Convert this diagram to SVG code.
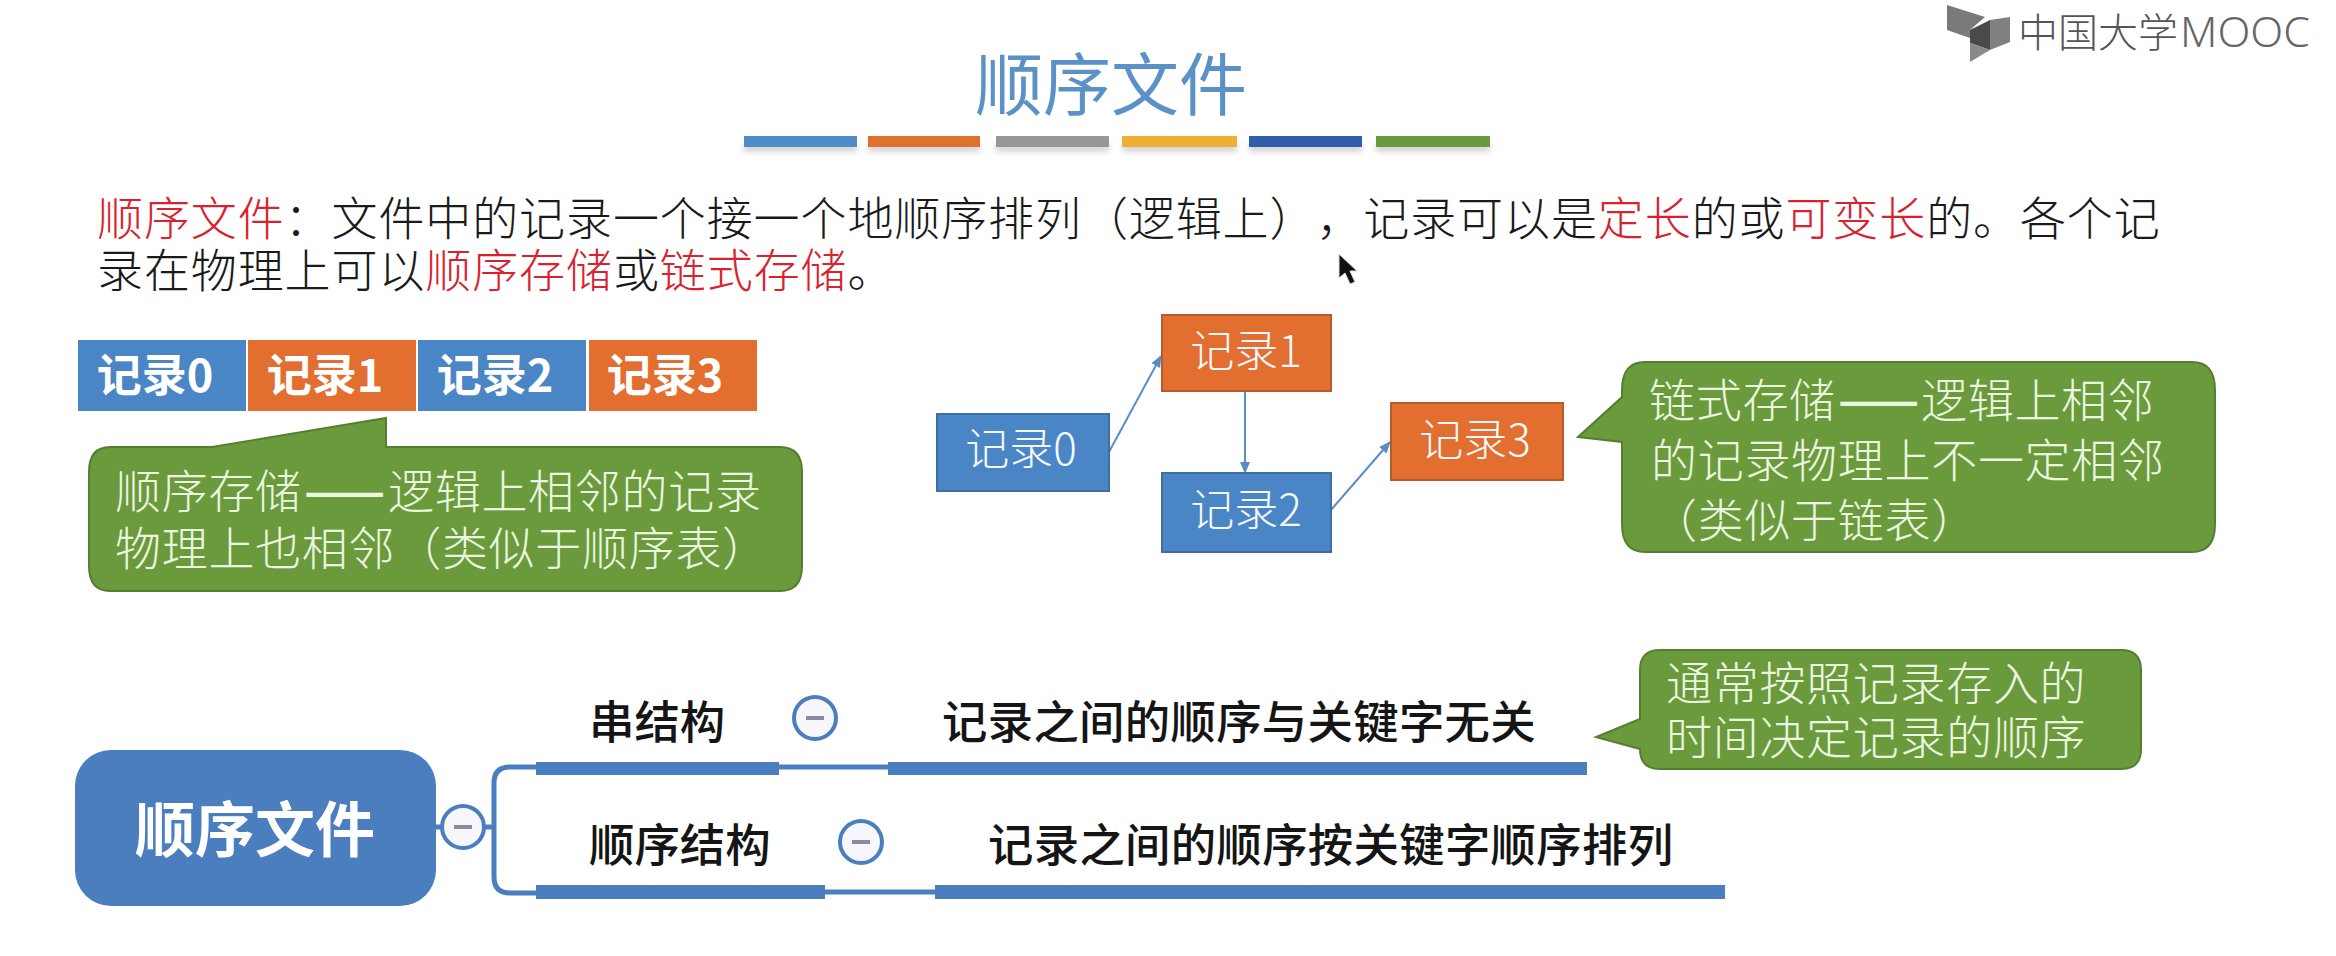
<svg xmlns="http://www.w3.org/2000/svg" width="2336" height="956" viewBox="0 0 2336 956">
<defs>
<style>
text{font-family:"Noto Sans CJK SC","Noto Sans",sans-serif;text-spacing-trim:space-all}
.body{font-size:46px;letter-spacing:.9px;fill:#1a1a1a;font-weight:300}
.red{fill:#d8232f}
.rowt{font-size:45px;font-weight:700;fill:#fff;text-anchor:middle}
.nodet{font-size:44px;fill:#f4f8fc;text-anchor:middle;font-weight:300}
.call{fill:#6a9a3c;stroke:#557f30;stroke-width:2}
.callt{font-size:46px;fill:#eaf6e0;font-weight:300;letter-spacing:.7px}
.dsh{font-weight:700}
.blue{fill:#4a86c5}
.orange{fill:#e26e30}
.box{stroke:#3f6ea3;stroke-width:2}
.box2{stroke:#b75a2c;stroke-width:2}
.arrow{fill:none;stroke:#5a8cc8;stroke-width:2;marker-end:url(#ah)}
.tree{fill:none;stroke:#4a7ebf;stroke-width:5}
.bar{fill:#4a7ebf}
.minus{fill:#f6f6fb;stroke:#4a7ebf;stroke-width:4}
.dash{fill:#8a8aa0}
.tt{font-size:45.4px;font-weight:500;fill:#151515}
</style>
<marker id="ah" viewBox="0 0 12 12" refX="11" refY="6" markerWidth="12" markerHeight="12" orient="auto" markerUnits="userSpaceOnUse"><path d="M0 1 L12 6 L0 11 Z" fill="#5a8cc8"/></marker>
<filter id="sh" x="-5%" y="-30%" width="110%" height="220%"><feGaussianBlur stdDeviation="3"/></filter>
</defs>
<rect width="2336" height="956" fill="#fff"/>

<g id="logo">
<path d="M1947 5 L1985 17 L1970 30 L1970 38 L1947 30 Z" fill="#7a7a7a"/>
<path d="M1970 30 L1990 20 L1990 50 L1970 43 Z" fill="#4a4a4a"/>
<path d="M1990 20 L2010 17 L2010 42 L1990 50 Z" fill="#808080"/>
<path d="M1970 43 L1990 50 L1970 62 Z" fill="#8a8a8a"/>
<text x="2018" y="47" font-size="40" font-weight="300" fill="#555">中国大学</text>
<text x="2180" y="47" font-size="43" font-weight="300" fill="#666" textLength="130" lengthAdjust="spacingAndGlyphs" style="font-family:'Noto Sans',sans-serif">MOOC</text>
</g>

<g id="title">
<text x="1111" y="110" font-size="68" fill="#5a92c8" text-anchor="middle">顺序文件</text>
<g opacity=".35" filter="url(#sh)" fill="#666">
<rect x="744" y="144" width="113" height="7"/><rect x="868" y="144" width="112" height="7"/><rect x="996" y="144" width="113" height="7"/><rect x="1122" y="144" width="115" height="7"/><rect x="1249" y="144" width="113" height="7"/><rect x="1376" y="144" width="114" height="7"/>
</g>
<rect x="744" y="136" width="113" height="11" fill="#4f8cc8"/>
<rect x="868" y="136" width="112" height="11" fill="#df702e"/>
<rect x="996" y="136" width="113" height="11" fill="#979797"/>
<rect x="1122" y="136" width="115" height="11" fill="#f0ae33"/>
<rect x="1249" y="136" width="113" height="11" fill="#2f5dab"/>
<rect x="1376" y="136" width="114" height="11" fill="#679b3e"/>
</g>

<g id="definition">
<text class="body" x="97" y="235"><tspan class="red">顺序文件</tspan>：文件中的记录一个接一个地顺序排列（逻辑上），记录可以是<tspan class="red">定长</tspan>的或<tspan class="red">可变长</tspan>的。各个记</text>
<text class="body" x="97" y="287">录在物理上可以<tspan class="red">顺序存储</tspan>或<tspan class="red">链式存储</tspan>。</text>
</g>

<g id="seq-record0"><rect x="78" y="340" width="168" height="71" class="blue"/><text class="rowt" x="155" y="392">记录0</text></g>
<g id="seq-record1"><rect x="248" y="340" width="168" height="71" class="orange"/><text class="rowt" x="325" y="392">记录1</text></g>
<g id="seq-record2"><rect x="418" y="340" width="168" height="71" class="blue"/><text class="rowt" x="495" y="392">记录2</text></g>
<g id="seq-record3"><rect x="589" y="340" width="168" height="71" class="orange"/><text class="rowt" x="665" y="392">记录3</text></g>

<g id="callout-seq">
<path class="call" d="M110 447 H212 L386 418 V447 H780 Q802 447 802 472 V566 Q802 591 780 591 H110 Q89 591 89 566 V472 Q89 447 110 447 Z"/>
<text class="callt" x="115" y="508">顺序存储<tspan class="dsh" x="304" textLength="82" lengthAdjust="spacingAndGlyphs">——</tspan><tspan x="388">逻辑上相邻的记录</tspan></text>
<text class="callt" x="115" y="565">物理上也相邻（类似于顺序表）</text>
</g>

<g id="connectors">
<path class="arrow" d="M1109 452 L1161 356"/>
<path class="arrow" d="M1245 391 V473"/>
<path class="arrow" d="M1331 510 L1390 442"/>
<path class="tree" d="M436 827 H442"/>
<path class="tree" d="M484 827 H494"/>
<path class="tree" d="M536 767 H510 Q494 767 494 783 V877 Q494 893 510 893 H536"/>
<path class="tree" d="M779 767 H888"/>
<path class="tree" d="M825 892 H935"/>
</g>

<g id="link-record0"><rect x="937" y="414" width="172" height="77" class="blue box"/><text class="nodet" x="1021" y="465">记录0</text></g>
<g id="link-record1"><rect x="1162" y="315" width="169" height="76" class="orange box2"/><text class="nodet" x="1246" y="367">记录1</text></g>
<g id="link-record2"><rect x="1162" y="473" width="169" height="79" class="blue box"/><text class="nodet" x="1246" y="526">记录2</text></g>
<g id="link-record3"><rect x="1391" y="403" width="172" height="77" class="orange box2"/><text class="nodet" x="1475" y="456">记录3</text></g>

<g id="callout-link">
<path class="call" d="M1645 362 H2192 Q2215 362 2215 390 V524 Q2215 552 2192 552 H1645 Q1622 552 1622 524 V442 L1578 437 L1622 397 V390 Q1622 362 1645 362 Z"/>
<text class="callt" x="1649" y="417">链式存储<tspan class="dsh" x="1838" textLength="82" lengthAdjust="spacingAndGlyphs">——</tspan><tspan x="1921">逻辑上相邻</tspan></text>
<text class="callt" x="1651" y="477">的记录物理上不一定相邻</text>
<text class="callt" x="1651" y="537">（类似于链表）</text>
</g>

<g id="root">
<rect x="75" y="750" width="361" height="156" rx="36" fill="#4a7ebf"/>
<text x="255" y="852" font-size="60" font-weight="700" fill="#fff" text-anchor="middle">顺序文件</text>
</g>
<g id="toggle-root"><circle cx="463" cy="827" r="21" class="minus"/><rect x="454" y="825" width="18" height="4" class="dash"/></g>

<g id="branch-chain">
<text class="tt" x="589" y="739">串结构</text>
<rect x="536" y="762" width="243" height="13" class="bar"/>
</g>
<g id="toggle-chain"><circle cx="815" cy="718" r="21" class="minus"/><rect x="806" y="716" width="18" height="4" class="dash"/></g>
<g id="desc-chain">
<text class="tt" x="942" y="739" style="letter-spacing:.3px">记录之间的顺序与关键字无关</text>
<rect x="888" y="762" width="699" height="13" class="bar"/>
</g>

<g id="branch-seq">
<text class="tt" x="589" y="862">顺序结构</text>
<rect x="536" y="885" width="289" height="14" class="bar"/>
</g>
<g id="toggle-seq"><circle cx="861" cy="842" r="21" class="minus"/><rect x="852" y="840" width="18" height="4" class="dash"/></g>
<g id="desc-seq">
<text class="tt" x="988" y="862" style="letter-spacing:.3px">记录之间的顺序按关键字顺序排列</text>
<rect x="935" y="885" width="790" height="14" class="bar"/>
</g>

<g id="callout-note">
<path class="call" d="M1660 650 H2121 Q2141 650 2141 670 V749 Q2141 769 2121 769 H1660 Q1640 769 1640 749 L1596 737 L1640 719 V670 Q1640 650 1660 650 Z"/>
<text class="callt" x="1666" y="700">通常按照记录存入的</text>
<text class="callt" x="1666" y="754">时间决定记录的顺序</text>
</g>

<g id="cursor">
<path d="M1339 254 L1339 278 L1345 273 L1350 284 L1355 282 L1350 271 L1357 271 Z" fill="#111" stroke="#ddd" stroke-width="1"/>
</g>
</svg>
